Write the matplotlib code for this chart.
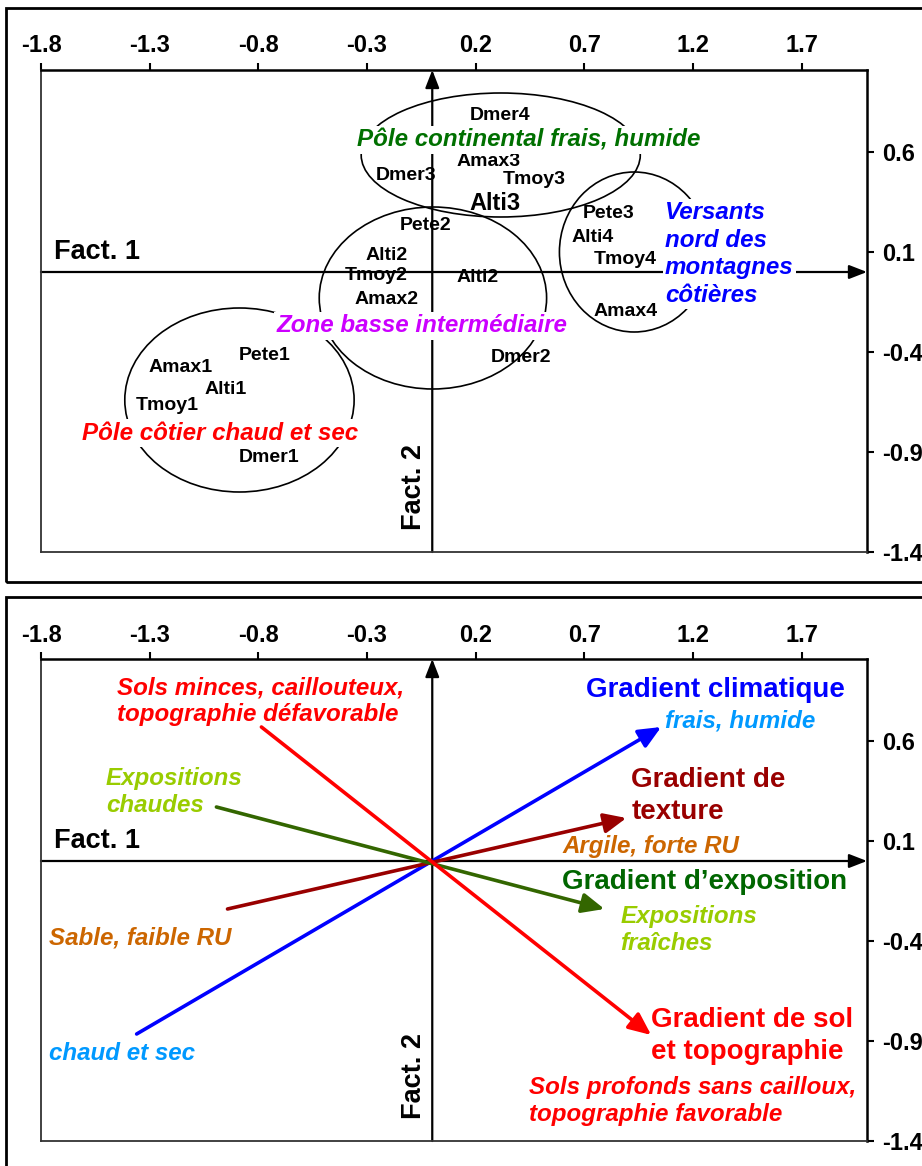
import matplotlib
matplotlib.use("Agg")
import matplotlib.pyplot as plt
from matplotlib.patches import Ellipse, Rectangle
import numpy as np

plt.rcParams['font.family'] = ['Liberation Sans', 'DejaVu Sans']
plt.rcParams['font.weight'] = 'bold'

# --- top panel: variable modalities on the factorial plane (Fact. 1 x Fact. 2)
point_names = ['Dmer4', 'Amax3', 'Tmoy3', 'Alti3', 'Dmer3', 'Pete2', 'Alti2', 'Tmoy2',
               'Amax2', 'Alti2', 'Pete3', 'Alti4', 'Tmoy4', 'Amax4', 'Dmer2',
               'Pete1', 'Amax1', 'Alti1', 'Tmoy1', 'Dmer1']
point_x = [0.31, 0.26, 0.47, 0.29, -0.12, -0.03, -0.21, -0.26,
           -0.21, 0.21, 0.81, 0.74, 0.89, 0.89, 0.41,
           -0.77, -1.16, -0.95, -1.22, -0.75]
point_y = [0.78, 0.555, 0.46, 0.34, 0.485, 0.235, 0.085, -0.02,
           -0.14, -0.025, 0.29, 0.175, 0.065, -0.195, -0.425,
           -0.415, -0.475, -0.59, -0.67, -0.93]
point_big = ['Alti3']

# groups (ellipses + label)
group_labels = ['Pôle continental frais, humide', 'Zone basse intermédiaire',
                'Pôle côtier chaud et sec', 'Versants\nnord des\nmontagnes\ncôtières']
group_colors = ['#007000', '#CC00FF', '#FF0000', '#0000FF']
group_label_x = [0.443, -0.048, -0.974, 1.07]
group_label_y = [0.66, -0.27, -0.805, 0.09]
group_label_ha = ['center', 'center', 'center', 'left']
ell_x = [0.315, 0.003, -0.887, 0.929]
ell_y = [0.585, -0.13, -0.64, 0.10]
ell_w = [1.284, 1.046, 1.055, 0.688]
ell_h = [0.62, 0.91, 0.92, 0.80]

# --- bottom panel: gradients
grad_tail_x = [-1.36, -0.942, -0.993, -0.786]
grad_tail_y = [-0.865, -0.24, 0.27, 0.67]
grad_head_x = [1.053, 0.893, 0.792, 1.007]
grad_head_y = [0.67, 0.215, -0.24, -0.87]
grad_colors = ['#0000FF', '#990000', '#336600', '#FF0000']

grad_titles = ['Gradient climatique', 'Gradient de\ntexture', 'Gradient d\u2019exposition',
               'Gradient de sol\net topographie']
grad_title_x = [0.709, 0.916, 0.599, 1.007]
grad_title_y = [0.855, 0.325, -0.105, -0.875]
grad_title_colors = ['#0000FF', '#990000', '#006600', '#FF0000']

end_labels = ['frais, humide', 'chaud et sec', 'Argile, forte RU', 'Sable, faible RU',
              'Expositions\nfraîches', 'Expositions\nchaudes',
              'Sols profonds sans cailloux,\ntopographie favorable',
              'Sols minces, caillouteux,\ntopographie défavorable']
end_x = [1.07, -1.763, 0.599, -1.763, 0.865, -1.502, 0.443, -1.451]
end_y = [0.70, -0.96, 0.07, -0.385, -0.345, 0.345, -1.20, 0.80]
end_colors = ['#0099FF', '#0099FF', '#CC6600', '#CC6600',
              '#99CC00', '#99CC00', '#FF0000', '#FF0000']

xticks = [-1.8, -1.3, -0.8, -0.3, 0.2, 0.7, 1.2, 1.7]
yticks = [0.6, 0.1, -0.4, -0.9, -1.4]
xlim = (-1.8, 2.0)
ylim = (-1.4, 1.01)

W, H = 922, 1166
fig = plt.figure(figsize=(W / 100, H / 100), dpi=100)

# outer frames
fig.add_artist(Rectangle((6 / W, 1 - 582 / H), 1.0, (582 - 8) / H,
                         transform=fig.transFigure, fill=False, lw=2, ec='black'))
fig.add_artist(Rectangle((6 / W, -0.05), 1.0, 0.05 + 1 - 597 / H,
                         transform=fig.transFigure, fill=False, lw=2, ec='black'))

ax1 = fig.add_axes([41 / W, 1 - 552 / H, 826 / W, 482 / H])
ax2 = fig.add_axes([41 / W, 1 - 1141 / H, 826 / W, 482 / H])


def setup(ax):
    ax.set_xlim(*xlim)
    ax.set_ylim(*ylim)
    ax.xaxis.tick_top()
    ax.yaxis.tick_right()
    ax.set_xticks(xticks)
    ax.set_yticks(yticks)
    ax.set_xticklabels(['%.1f' % v for v in xticks], fontsize=17, fontweight='bold')
    ax.set_yticklabels(['%.1f' % v for v in yticks], fontsize=17, fontweight='bold')
    ax.tick_params(direction='out', length=5, width=1.5)
    ax.tick_params(axis='x', pad=4)
    ax.tick_params(axis='y', pad=6)
    for s in ['top', 'right']:
        ax.spines[s].set_linewidth(1.8)
        ax.spines[s].set_color('black')
    for s in ['left', 'bottom']:
        ax.spines[s].set_linewidth(1.3)
        ax.spines[s].set_color('#333333')
    # factorial axes with arrows
    ax.annotate('', xy=(xlim[1], 0), xytext=(xlim[0], 0), annotation_clip=False,
                arrowprops=dict(arrowstyle='-|>,head_length=0.9,head_width=0.35',
                                mutation_scale=12, lw=1.6, color='black',
                                shrinkA=0, shrinkB=0), zorder=2)
    ax.annotate('', xy=(0, ylim[1]), xytext=(0, ylim[0]), annotation_clip=False,
                arrowprops=dict(arrowstyle='-|>,head_length=0.9,head_width=0.35',
                                mutation_scale=12, lw=1.6, color='black',
                                shrinkA=0, shrinkB=0), zorder=2)
    ax.text(-1.74, 0.1, 'Fact. 1', fontsize=19.5, fontweight='bold', va='center', ha='left')
    ax.text(-0.084, -1.075, 'Fact. 2', fontsize=19.5, fontweight='bold',
            va='center', ha='center', rotation=90)


setup(ax1)
setup(ax2)

# top panel
for cx, cy, w, h in zip(ell_x, ell_y, ell_w, ell_h):
    ax1.add_patch(Ellipse((cx, cy), w, h, fill=False, lw=1.2, ec='black', zorder=3))

for name, px, py in zip(point_names, point_x, point_y):
    fs = 17 if name in point_big else 14
    ax1.text(px, py, name, fontsize=fs, fontweight='bold', ha='center', va='center', zorder=4)

for lab, lx, ly, ha, c in zip(group_labels, group_label_x, group_label_y, group_label_ha, group_colors):
    ax1.text(lx, ly, lab, fontsize=17.4, fontweight='bold', fontstyle='italic', color=c,
             ha=ha, va='center', linespacing=1.27, zorder=6,
             bbox=dict(facecolor='white', edgecolor='none', pad=1.5))

# bottom panel
for tx, ty, hx, hy, c in zip(grad_tail_x, grad_tail_y, grad_head_x, grad_head_y, grad_colors):
    ax2.annotate('', xy=(hx, hy), xytext=(tx, ty),
                 arrowprops=dict(arrowstyle='-|>,head_length=0.9,head_width=0.4',
                                 mutation_scale=15, lw=2.6, color=c,
                                 shrinkA=0, shrinkB=0), zorder=4)

for lab, lx, ly, c in zip(grad_titles, grad_title_x, grad_title_y, grad_title_colors):
    ax2.text(lx, ly, lab, fontsize=20, fontweight='bold', color=c,
             ha='left', va='center', linespacing=1.3, zorder=5)

for lab, lx, ly, c in zip(end_labels, end_x, end_y, end_colors):
    ax2.text(lx, ly, lab, fontsize=17.4, fontweight='bold', fontstyle='italic', color=c,
             ha='left', va='center', linespacing=1.17, zorder=5)

fig.savefig('out.png', dpi=100)
